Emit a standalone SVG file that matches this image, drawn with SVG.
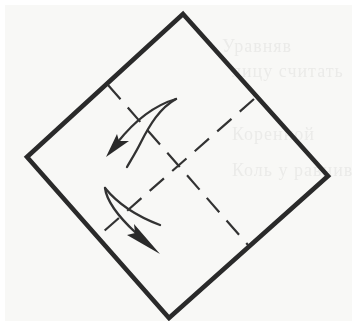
<svg xmlns="http://www.w3.org/2000/svg" width="352" height="321" viewBox="0 0 352 321">
<defs>
<style>
.o{fill:none;stroke:#2a2a2a;stroke-width:4.6;stroke-linejoin:miter}
.d{fill:none;stroke:#333;stroke-width:2.2;stroke-dasharray:19 11}
.a{fill:none;stroke:#333;stroke-width:2.3;stroke-linecap:round}
.h{fill:#2c2c2c;stroke:none}
.g{font-family:"Liberation Serif",serif;font-size:18px;fill:#ebebe9;letter-spacing:1px}
</style>
<filter id="b" x="-5%" y="-5%" width="110%" height="110%"><feGaussianBlur stdDeviation="0.45"/></filter>
</defs>
<rect width="352" height="321" fill="#ffffff"/>
<rect x="5" y="5" width="347" height="316" fill="#f8f8f6"/>
<g id="ghost-text" filter="url(#b)">
<text class="g" x="222" y="52">Уравняв</text>
<text class="g" x="232" y="77">лицу считать</text>
<text class="g" x="232" y="140">Коренной</text>
<text class="g" x="232" y="176">Коль у равнив</text>
</g>
<g filter="url(#b)">
<g id="sheet"><path class="o" d="M183 14 L328 176 L169 318 L27 157 Z"/></g>
<g id="connectors">
<path class="d" d="M108 85 L248 245"/>
<path class="d" d="M254 99 L103 232"/>
<path class="a" d="M176 99 C152 106 132 124 117 143"/>
<path class="a" d="M176 99 C160 108 150 124 140 144 C136 152 131 160 127 167"/>
<path class="h" d="M106 157 L117 134 L119 141 L129 141 Z"/>
<path class="a" d="M105 188 C118 204 136 216 160 225"/>
<path class="a" d="M105 188 C107 204 122 220 136 233"/>
<path class="h" d="M160 254 L127 235 L135 233 L134 224 Z"/>
</g>
</g>
</svg>
